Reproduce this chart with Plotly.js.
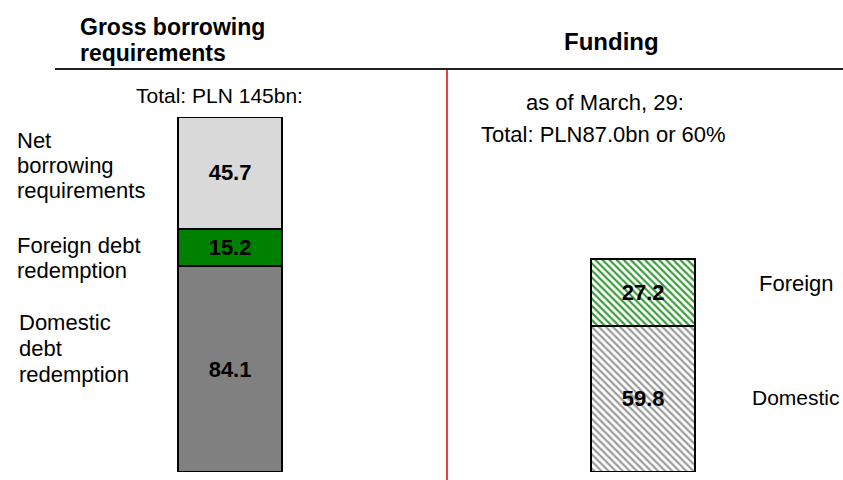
<!DOCTYPE html>
<html>
<head>
<meta charset="utf-8">
<script src="https://cdn.plot.ly/plotly-3.0.1.min.js"></script>
<style>
html,body{margin:0;padding:0;background:#fff;}
#chart{width:843px;height:480px;}
</style>
</head>
<body>
<div id="chart"></div>
<script>
// ---- data ----
const columns = ["Gross borrowing requirements", "Funding"];
const grossSegments = ["Domestic debt redemption", "Foreign debt redemption", "Net borrowing requirements"];
const grossValues = [84.1, 15.2, 45.7];
const fundingSegments = ["Domestic", "Foreign"];
const fundingValues = [59.8, 27.2];
const grossTotalLabel = "Total: PLN 145bn:";
const fundingDateLabel = "as of March, 29:";
const fundingTotalLabel = "Total: PLN87.0bn or 60%";
// label lines as shown in the chart
const headerLines = ["Gross borrowing", "requirements"];
const netLabelLines = ["Net", "borrowing", "requirements"];
const foreignLabelLines = ["Foreign debt", "redemption"];
const domesticLabelLines = ["Domestic", "debt", "redemption"];

// ---- layout helpers (pixel -> paper) ----
const W = 843, H = 480, mT = 117, mB = 8, mL = 0, mR = 0;
const plotH = H - mT - mB, plotW = W - mL - mR;
const px = x => (x - mL) / plotW;
const py = y => (H - mB - y) / plotH;

const FONT = "Arial, 'Liberation Sans', sans-serif";
const outline = {color: "#000", width: 2};
const valFont = {family: FONT, size: 22, color: "#000", weight: "bold"};

const grossColors = ["#808080", "#008000", "#d9d9d9"];
const fundingPattern = [
  {shape: "\\", fgcolor: "#9c9c9c", bgcolor: "#ffffff", size: 5, solidity: 0.45},
  {shape: "\\", fgcolor: "#3c9c3c", bgcolor: "#ffffff", size: 5, solidity: 0.45}
];

const traces = [];
grossSegments.forEach((name, i) => {
  traces.push({
    type: "bar", name: name, x: [columns[0]], y: [grossValues[i]],
    text: [grossValues[i].toFixed(1)], textposition: "inside", insidetextanchor: "middle",
    textfont: valFont, constraintext: "none",
    marker: {color: grossColors[i], line: outline}, width: 0.252, hoverinfo: "skip"
  });
});
fundingSegments.forEach((name, i) => {
  traces.push({
    type: "bar", name: name, x: [columns[1]], y: [fundingValues[i]],
    text: [fundingValues[i].toFixed(1)], textposition: "inside", insidetextanchor: "middle",
    textfont: valFont, constraintext: "none",
    marker: {color: "#ffffff", pattern: fundingPattern[i], line: outline}, width: 0.252, hoverinfo: "skip"
  });
});

function ann(text, x, y, size, opts) {
  return Object.assign({
    text: text, xref: "paper", yref: "paper", x: px(x), y: py(y),
    xanchor: "left", yanchor: "middle", showarrow: false, align: "left",
    font: {family: FONT, size: size, color: "#000"}
  }, opts || {});
}
function lines(arr, x, yStart, step, size) {
  return arr.map((t, i) => ann(t, x, yStart + i * step, size));
}

const annotations = [
  ann("<b>" + headerLines[0] + "</b>", 78, 27.5, 23),
  ann("<b>" + headerLines[1] + "</b>", 78, 52.5, 23),
  ann("<b>" + columns[1] + "</b>", 611, 41.5, 24, {xanchor: "center"}),
  ann(grossTotalLabel, 219, 95, 21, {xanchor: "center"}),
  ann(fundingDateLabel, 524, 102.5, 22),
  ann(fundingTotalLabel, 479, 134.5, 22),
  ...lines(netLabelLines, 15, 140.5, 25, 22),
  ...lines(foreignLabelLines, 15, 245, 25, 22),
  ...lines(domesticLabelLines, 17, 322, 26, 22),
  ann(fundingSegments[1], 757, 283, 22),
  ann(fundingSegments[0], 750, 397, 21)
];

const shapes = [
  {type: "line", xref: "paper", yref: "paper", x0: px(55), x1: px(843), y0: py(69), y1: py(69),
   line: {color: "#222", width: 2}},
  {type: "line", xref: "paper", yref: "paper", x0: px(447), x1: px(447), y0: py(70), y1: py(480),
   line: {color: "#e00000", width: 1.5}}
];

const layout = {
  width: W, height: H,
  margin: {l: mL, r: mR, t: mT, b: mB, pad: 0},
  paper_bgcolor: "#ffffff", plot_bgcolor: "#ffffff",
  barmode: "stack", showlegend: false,
  xaxis: {type: "category", categoryarray: columns, range: [-0.557, 1.484], visible: false, fixedrange: true},
  yaxis: {range: [0, 145], visible: false, fixedrange: true},
  annotations: annotations, shapes: shapes,
  font: {family: FONT}
};

Plotly.newPlot("chart", traces, layout, {displayModeBar: false, staticPlot: true});
</script>
</body>
</html>
